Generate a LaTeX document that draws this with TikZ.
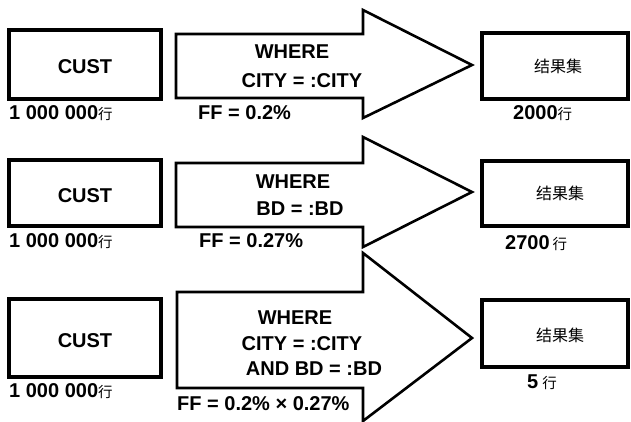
\documentclass[tikz,border=0pt]{standalone}
\usepackage{fontspec}
\setmainfont{Liberation Sans}
\newfontfamily\cjk{Noto Sans CJK SC}
% the "row" unit after each count, in a lighter CJK face
\newcommand\rowunit{{\fontsize{14.5}{16}\selectfont\cjk\mdseries 行}}
\begin{document}
\begin{tikzpicture}[x=1pt,y=-1pt,
  tablebox/.style={draw=black,line width=3.8pt,fill=white},
  resultbox/.style={draw=black,line width=3.4pt,fill=white},
  bigarrow/.style={draw=black,line width=2.6pt,fill=white,line join=miter},
  lbl/.style={inner sep=0pt,font=\fontsize{20}{22}\selectfont\bfseries},
  cn/.style={inner sep=0pt,font=\fontsize{16}{18}\selectfont\cjk}]
\useasboundingbox (0,0) rectangle (631,422);

% ---- row 1: filter on CITY ----
\draw[tablebox] (9,30) rectangle (161,99);
\node[lbl,anchor=base] (cust1) at (85,74) {CUST};
\draw[bigarrow] (176,34) -- (363,34) -- (363,10) -- (472,65) -- (363,118)
  -- (363,98) -- (176,98) -- cycle;
\node[lbl,anchor=base] (w1a) at (292,59) {WHERE};
\node[lbl,anchor=base] (w1b) at (302,88) {CITY = :CITY};
\draw[resultbox] (482,33) rectangle (628,99);
\node[cn,anchor=base] (res1) at (558,73) {结果集};
\node[lbl,anchor=base west] (n1) at (9,120) {1 000 000\rowunit};
\node[lbl,anchor=base west] (ff1) at (198,120) {FF = 0.2\%};
\node[lbl,anchor=base west] (r1) at (513,120) {2000\rowunit};

% ---- row 2: filter on BD ----
\draw[tablebox] (9,160) rectangle (161,226);
\node[lbl,anchor=base] (cust2) at (85,202) {CUST};
\draw[bigarrow] (176,163) -- (363,163) -- (363,137) -- (472,192) -- (363,247)
  -- (363,227) -- (176,227) -- cycle;
\node[lbl,anchor=base] (w2a) at (293,189) {WHERE};
\node[lbl,anchor=base] (w2b) at (300,215) {BD = :BD};
\draw[resultbox] (482,161) rectangle (628,226);
\node[cn,anchor=base] (res2) at (560,199) {结果集};
\node[lbl,anchor=base west] (n2) at (9,247) {1 000 000\rowunit};
\node[lbl,anchor=base west] (ff2) at (199,247) {FF = 0.27\%};
\node[lbl,anchor=base west] (r2) at (505,249) {2700\kern3pt\rowunit};

% ---- row 3: both filters ----
\draw[tablebox] (9,299) rectangle (161,377);
\node[lbl,anchor=base] (cust3) at (85,347) {CUST};
\draw[bigarrow] (177,292) -- (363,292) -- (363,253) -- (472,338) -- (363,421)
  -- (363,388) -- (177,388) -- cycle;
\node[lbl,anchor=base] (w3a) at (295,324) {WHERE};
\node[lbl,anchor=base] (w3b) at (302,350) {CITY = :CITY};
\node[lbl,anchor=base] (w3c) at (314,375) {AND BD = :BD};
\draw[resultbox] (482,300) rectangle (628,367);
\node[cn,anchor=base] (res3) at (560,341) {结果集};
\node[lbl,anchor=base west] (n3) at (9,397) {1 000 000\rowunit};
\node[lbl,anchor=base west] (ff3) at (177,410) {FF = 0.2\% × 0.27\%};
\node[lbl,anchor=base west] (r3) at (527,388) {5\kern4pt\rowunit};
\end{tikzpicture}
\end{document}
